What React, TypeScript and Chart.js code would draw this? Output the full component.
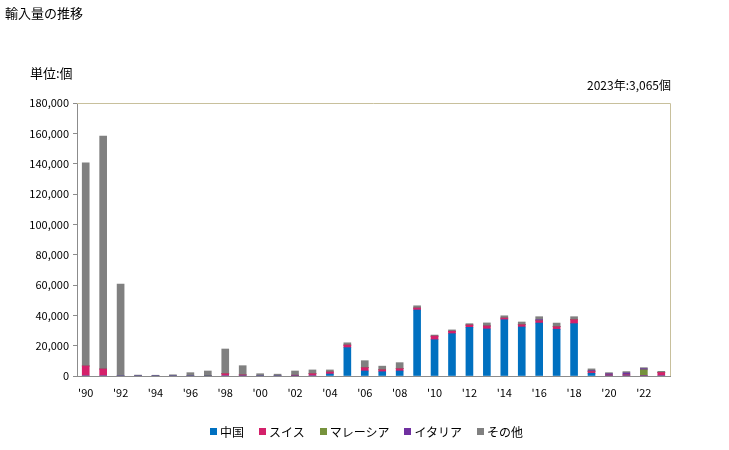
import React, { useEffect, useRef } from "react";
import { Chart, registerables } from "chart.js";

Chart.register(...registerables);

const years: string[] = [];
for (let y = 1990; y <= 2023; y++) years.push(String(y));

const china = [0, 0, 0, 0, 0, 0, 0, 0, 0, 0, 0, 0, 0, 0, 1300, 18700, 3300, 2800, 3300, 43500, 23900, 27900, 32100, 31000, 37100, 32300, 34900, 30800, 34500, 1800, 0, 0, 0, 0];
const swiss = [6600, 4600, 0, 0, 0, 0, 0, 0, 1500, 700, 0, 0, 500, 1500, 1300, 1700, 2200, 1300, 1500, 1300, 2400, 1600, 1500, 2000, 1100, 1500, 1500, 1700, 2600, 1100, 600, 700, 400, 2300];
const malaysia = [0, 0, 0, 0, 0, 0, 0, 400, 0, 0, 0, 0, 0, 0, 0, 0, 0, 0, 0, 0, 0, 0, 0, 0, 0, 0, 0, 0, 0, 0, 0, 0, 3700, 0];
const italy = [0, 0, 0, 0, 0, 0, 0, 0, 0, 0, 0, 0, 0, 0, 0, 0, 0, 0, 0, 0, 0, 0, 0, 0, 0, 0, 700, 0, 0, 700, 900, 1300, 700, 0];
const others = [134000, 153600, 60600, 600, 500, 800, 2200, 2900, 16300, 6100, 1500, 1200, 2800, 2500, 1400, 1500, 4600, 2400, 4000, 1500, 700, 900, 900, 2000, 1500, 1800, 2000, 2400, 2000, 1100, 700, 900, 700, 765];

const seriesNames = ["中国", "スイス", "マレーシア", "イタリア", "その他"];
const seriesColors = ["#0070c0", "#d4206a", "#76923c", "#7030a0", "#808080"];
const yTicks = [0, 20000, 40000, 60000, 80000, 100000, 120000, 140000, 160000, 180000];

const FONT = "'Noto Sans CJK JP', 'DejaVu Sans', sans-serif";

const frame = {
  id: "frame",
  afterDraw(chart: any) {
    const { ctx, chartArea } = chart;
    ctx.save();
    ctx.strokeStyle = "#c8c09c";
    ctx.lineWidth = 1;
    ctx.beginPath();
    ctx.moveTo(chartArea.left, chartArea.top + 0.5);
    ctx.lineTo(chartArea.right + 0.5, chartArea.top + 0.5);
    ctx.lineTo(chartArea.right + 0.5, chartArea.bottom);
    ctx.stroke();
    ctx.restore();
  },
};

export default function App() {
  const ref = useRef<HTMLCanvasElement>(null);
  useEffect(() => {
    const data = [china, swiss, malaysia, italy, others];
    const chart = new Chart(ref.current!, {
      type: "bar",
      data: {
        labels: years,
        datasets: data.map((d, i) => ({
          label: seriesNames[i],
          data: d,
          backgroundColor: seriesColors[i],
          barThickness: 7,
          borderWidth: 0,
        })),
      },
      options: {
        responsive: false,
        animation: false,
        layout: { padding: { top: 103, right: 59, left: 0, bottom: 0 } },
        plugins: { legend: { display: false }, tooltip: { enabled: false } },
        scales: {
          x: {
            stacked: true,
            grid: { display: false },
            border: { display: true, color: "#8c8c8c", width: 1 },
            ticks: {
              autoSkip: false,
              maxRotation: 0,
              minRotation: 0,
              color: "#000",
              font: { family: FONT, size: 11 },
              padding: 2,
              callback: (_v: any, i: number) => {
                const y = Number(years[i]);
                return y % 2 === 0 ? "'" + years[i].slice(2) : "";
              },
            },
            afterFit: (s: any) => {
              s.height = 74;
            },
          },
          y: {
            stacked: true,
            min: 0,
            max: 180000,
            afterBuildTicks: (s: any) => {
              s.ticks = yTicks.map((v) => ({ value: v }));
            },
            grid: { display: true, drawOnChartArea: false, drawTicks: true, tickLength: 4, color: "#8c8c8c" },
            border: { display: true, color: "#8c8c8c", width: 1 },
            ticks: {
              color: "#000",
              font: { family: FONT, size: 11 },
              padding: 4,
              callback: (v: any) => Number(v).toLocaleString("en-US"),
            },
            afterFit: (s: any) => {
              s.width = 77;
            },
          },
        },
      },
      plugins: [frame],
    });
    return () => chart.destroy();
  }, []);

  const txt: React.CSSProperties = { position: "absolute", fontFamily: FONT, color: "#000", whiteSpace: "nowrap" };
  return (
    <div style={{ position: "fixed", left: 0, top: 0, width: 729, height: 450, background: "#fff" }}>
      <canvas ref={ref} width={729} height={450} style={{ position: "absolute", left: 0, top: 0 }} />
      <div style={{ ...txt, left: 5, top: 3, fontSize: 13 }}>輸入量の推移</div>
      <div style={{ ...txt, left: 30, top: 63, fontSize: 13 }}>単位:個</div>
      <div style={{ ...txt, right: 729 - 671, top: 76, fontSize: 12 }}>2023年:3,065個</div>
      <div style={{ ...txt, left: 0, width: 729, top: 423, fontSize: 12, display: "flex", justifyContent: "center", gap: 15, paddingLeft: 2 }}>
        {seriesNames.map((n, i) => (
          <span key={n} style={{ display: "inline-flex", alignItems: "center" }}>
            <span style={{ display: "inline-block", width: 7, height: 7, background: seriesColors[i], marginRight: 3 }} />
            {n}
          </span>
        ))}
      </div>
    </div>
  );
}
